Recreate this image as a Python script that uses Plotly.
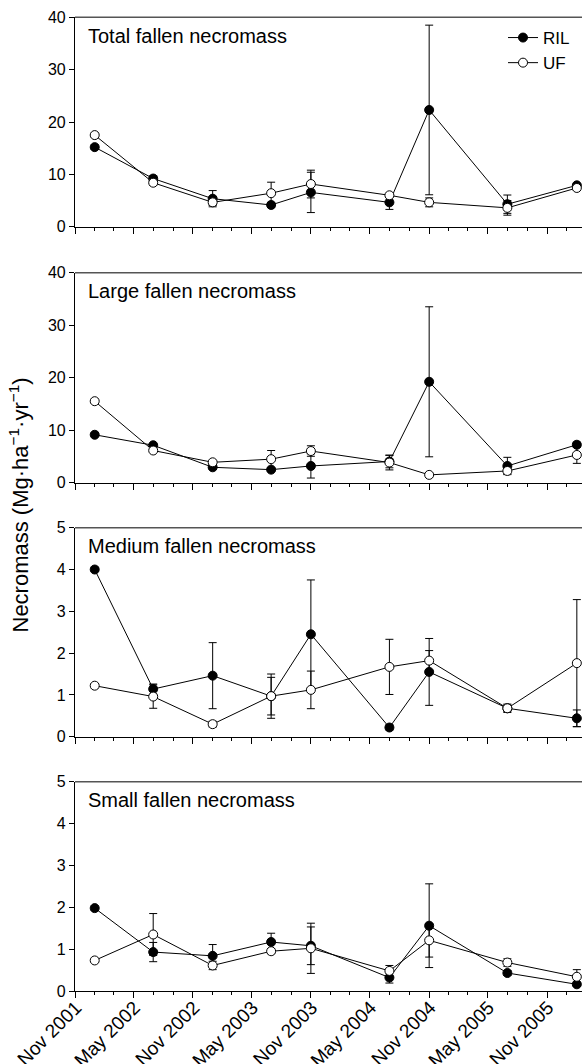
import plotly.graph_objects as go
from plotly.subplots import make_subplots

# ---------------- data ----------------
dates = ["2002-01-01", "2002-07-01", "2003-01-01", "2003-07-01", "2003-11-01",
         "2004-07-01", "2004-11-01", "2005-07-01", "2006-02-01"]

panel_titles = ["Total fallen necromass", "Large fallen necromass",
                "Medium fallen necromass", "Small fallen necromass"]

ril_total = [15.2, 9.2, 5.35, 4.15, 6.55, 4.65, 22.3, 4.3, 7.9]
ril_total_err = [0.4, 0.5, 1.55, 0.5, 3.85, 1.35, 16.2, 1.75, 0.3]
uf_total = [17.5, 8.4, 4.65, 6.4, 8.15, 6.0, 4.65, 3.6, 7.4]
uf_total_err = [0.3, 0.5, 0.6, 2.1, 2.65, 0.3, 0.85, 1.4, 0.4]

ril_large = [9.1, 7.1, 2.9, 2.45, 3.15, 4.0, 19.2, 3.15, 7.2]
ril_large_err = [0.3, 0.3, 0.3, 0.3, 2.3, 1.2, 14.3, 1.65, 0.5]
uf_large = [15.5, 6.1, 3.85, 4.45, 6.0, 3.8, 1.45, 2.2, 5.25]
uf_large_err = [0.3, 0.3, 0.3, 1.65, 1.0, 1.4, 0.3, 0.6, 1.6]

ril_medium = [4.0, 1.14, 1.46, 0.97, 2.45, 0.22, 1.55, 0.68, 0.44]
ril_medium_err = [0.05, 0.12, 0.79, 0.45, 1.3, 0.06, 0.8, 0.08, 0.2]
uf_medium = [1.22, 0.96, 0.30, 0.97, 1.12, 1.67, 1.82, 0.68, 1.76]
uf_medium_err = [0.05, 0.28, 0.07, 0.53, 0.45, 0.66, 0.24, 0.1, 1.52]

ril_small = [1.98, 0.93, 0.84, 1.17, 1.08, 0.32, 1.56, 0.43, 0.16]
ril_small_err = [0.05, 0.23, 0.27, 0.21, 0.45, 0.13, 1.0, 0.06, 0.05]
uf_small = [0.73, 1.35, 0.61, 0.95, 1.02, 0.48, 1.21, 0.68, 0.34]
uf_small_err = [0.05, 0.5, 0.1, 0.06, 0.6, 0.13, 0.4, 0.09, 0.17]

y_ranges = [[0, 40], [0, 40], [0, 5], [0, 5]]
y_dticks = [10, 10, 1, 1]

x_tickvals = ["2001-11-01", "2002-05-01", "2002-11-01", "2003-05-01", "2003-11-01",
              "2004-05-01", "2004-11-01", "2005-05-01", "2005-11-01"]
x_ticktext = ["Nov 2001", "May 2002", "Nov 2002", "May 2003", "Nov 2003",
              "May 2004", "Nov 2004", "May 2005", "Nov 2005"]
x_range = ["2001-11-01", "2006-02-17"]

y_title = "Necromass (Mg·ha<sup>−1</sup>·yr<sup>−1</sup>)"

panels = [
    (ril_total, ril_total_err, uf_total, uf_total_err),
    (ril_large, ril_large_err, uf_large, uf_large_err),
    (ril_medium, ril_medium_err, uf_medium, uf_medium_err),
    (ril_small, ril_small_err, uf_small, uf_small_err),
]

# ---------------- layout geometry ----------------
W, H = 582, 1064
ML, MR, MT, MB = 75, 0, 17, 73
PH = H - MT - MB
PW = W - ML - MR
panel_px = [(17.3, 226.7), (272.7, 482.5), (527.7, 736.7), (781.7, 991.0)]


def dom(top, bot):
    return [(H - MB - bot) / PH, (H - MB - top) / PH]


FONT = "Liberation Sans, Arial, Helvetica, sans-serif"

fig = make_subplots(rows=4, cols=1, shared_xaxes=True, vertical_spacing=0.04)

for i, (ril, ril_e, uf, uf_e) in enumerate(panels):
    r = i + 1
    fig.add_trace(go.Scatter(
        x=dates, y=ril, name="RIL", mode="lines+markers",
        line=dict(color="black", width=1),
        marker=dict(symbol="circle", size=9, color="black",
                    line=dict(color="black", width=1)),
        error_y=dict(type="data", array=ril_e, visible=True, color="black",
                     thickness=1, width=4),
        showlegend=(i == 0), legendgroup="RIL", cliponaxis=False,
    ), row=r, col=1)
    fig.add_trace(go.Scatter(
        x=dates, y=uf, name="UF", mode="lines+markers",
        line=dict(color="black", width=1),
        marker=dict(symbol="circle", size=9, color="white",
                    line=dict(color="black", width=1)),
        error_y=dict(type="data", array=uf_e, visible=True, color="black",
                     thickness=1, width=4),
        showlegend=(i == 0), legendgroup="UF", cliponaxis=False,
    ), row=r, col=1)

layout_updates = {}
annotations = []
shapes = []
for i in range(4):
    sfx = "" if i == 0 else str(i + 1)
    top, bot = panel_px[i]
    layout_updates["yaxis" + sfx] = dict(
        domain=dom(top, bot), range=y_ranges[i], dtick=y_dticks[i], tick0=0,
        showgrid=False, zeroline=False, showline=True, linecolor="black",
        linewidth=1.2, ticks="outside", ticklen=5, tickwidth=1, tickcolor="black",
        tickfont=dict(size=16, color="black", family=FONT), automargin=False,
    )
    layout_updates["xaxis" + sfx] = dict(
        type="date", range=x_range, tickmode="array", tickvals=x_tickvals,
        ticktext=x_ticktext, showticklabels=(i == 3), tickangle=-45,
        ticklabelstandoff=-9, ticklabelshift=1,
        showgrid=False, zeroline=False, showline=True, linecolor="black",
        linewidth=1.2, ticks="outside", ticklen=6, tickwidth=1, tickcolor="black",
        tickfont=dict(size=19, color="black", family=FONT), automargin=False,
        minor=dict(tickmode="linear", tick0="2001-11-01", dtick="M2",
                   ticks="outside", ticklen=3, tickcolor="black", tickwidth=1,
                   showgrid=False),
    )
    annotations.append(dict(
        text=panel_titles[i], xref="paper", yref="paper",
        x=(86 - ML) / PW, xanchor="left",
        y=(H - MB - (top + 18.5)) / PH, yanchor="middle",
        showarrow=False, font=dict(size=20, color="black", family=FONT),
    ))
    shapes.append(dict(
        type="line", xref="x" + sfx + " domain", yref="y" + sfx + " domain",
        x0=0, x1=1, y0=1, y1=1, line=dict(color="#555555", width=1.5),
    ))

annotations.append(dict(
    text=y_title, xref="paper", yref="paper", textangle=-90,
    x=-(ML - 18.5) / PW, xanchor="center",
    y=(H - MB - 505) / PH, yanchor="middle",
    showarrow=False, font=dict(size=22, color="black", family=FONT),
))

fig.update_layout(
    **layout_updates,
    width=W, height=H,
    margin=dict(l=ML, r=MR, t=MT, b=MB, pad=0, autoexpand=False),
    plot_bgcolor="white", paper_bgcolor="white",
    annotations=annotations, shapes=shapes,
    showlegend=True,
    legend=dict(x=(503 - ML) / PW, xanchor="left",
                y=1.0 - 3 / PH, yanchor="top",
                bgcolor="rgba(0,0,0,0)", borderwidth=0,
                font=dict(size=17, color="black", family=FONT),
                tracegroupgap=0, itemwidth=30),
    font=dict(family=FONT, color="black"),
)

fig.write_html("out.html",
               config={"displayModeBar": False},
               post_script="document.body.style.margin='0';"
                           "document.body.style.overflow='hidden';")
